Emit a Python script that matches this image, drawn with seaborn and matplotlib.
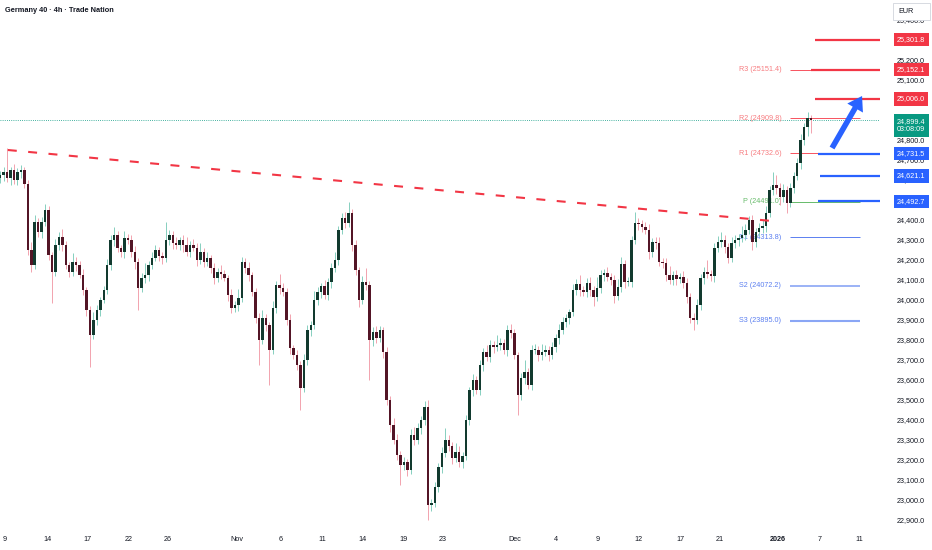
import matplotlib
matplotlib.use("Agg")
import matplotlib.pyplot as plt
import matplotlib.transforms as mtransforms
from matplotlib.patches import Rectangle
import numpy as np
import seaborn as sns

# Germany 40, 4h candles (4 bars per session)
first_open = 24610
closes = [
    24625, 24640, 24610, 24650, 24600, 24640, 24650, 24580, 24250, 24175,
    24390, 24340, 24390, 24450, 24225, 24140, 24275, 24315, 24275, 24175,
    24140, 24190, 24175, 24125, 24050, 23950, 23825, 23900, 23950, 24000,
    24050, 24175, 24300, 24325, 24260, 24240, 24310, 24300, 24240, 24190,
    24060, 24110, 24125, 24175, 24210, 24250, 24220, 24210, 24300, 24325,
    24285, 24275, 24300, 24275, 24240, 24275, 24260, 24200, 24240, 24190,
    24210, 24160, 24110, 24140, 24130, 24110, 24025, 23960, 23975, 24010,
    24190, 24160, 24125, 24040, 23910, 23800, 23910, 23875, 23750, 23960,
    24075, 24060, 24040, 23900, 23760, 23725, 23675, 23560, 23700, 23850,
    23875, 24000, 24040, 24070, 24025, 24090, 24160, 24200, 24350, 24410,
    24385, 24435, 24275, 24150, 24000, 24090, 24075, 23800, 23840, 23810,
    23850, 23740, 23500, 23375, 23300, 23225, 23175, 23190, 23150, 23325,
    23300, 23360, 23400, 23465, 22975, 22985, 23065, 23165, 23235, 23300,
    23270, 23210, 23240, 23190, 23220, 23400, 23550, 23600, 23550, 23675,
    23740, 23715, 23775, 23765, 23775, 23785, 23750, 23850, 23835, 23725,
    23525, 23610, 23640, 23575, 23750, 23750, 23725, 23740, 23750, 23725,
    23765, 23810, 23850, 23890, 23910, 23940, 24050, 24080, 24050, 24040,
    24085, 24050, 24015, 24060, 24125, 24135, 24115, 24100, 24020, 24065,
    24180, 24090, 24090, 24300, 24385, 24380, 24365, 24350, 24240, 24290,
    24285, 24190, 24185, 24125, 24100, 24125, 24105, 24115, 24085, 24015,
    23910, 23900, 23975, 24110, 24140, 24130, 24120, 24260, 24290, 24300,
    24265, 24210, 24285, 24300, 24310, 24325, 24350, 24400, 24290, 24340,
    24360, 24370, 24435, 24550, 24575, 24560, 24515, 24550, 24485, 24560,
    24620, 24685, 24800, 24865, 24910, 24899.4,
]
wick_up = [
    20, 25, 120, 15, 30, 20, 25, 15, 20, 40,
    35, 20, 25, 30, 20, 15, 30, 25, 40, 20,
    15, 45, 25, 20, 30, 15, 20, 40, 25, 15,
    20, 30, 25, 40, 20, 15, 35, 20, 25, 30,
    20, 25, 60, 20, 30, 25, 15, 20, 90, 25,
    20, 30, 15, 25, 40, 20, 30, 25, 45, 20,
    30, 15, 25, 20, 35, 20, 15, 30, 20, 45,
    25, 20, 30, 15, 20, 25, 40, 20, 15, 35,
    20, 55, 25, 20, 30, 15, 25, 20, 30, 25,
    20, 45, 25, 15, 30, 20, 25, 40, 20, 25,
    30, 55, 20, 25, 15, 30, 70, 20, 25, 30,
    20, 15, 25, 20, 35, 30, 20, 25, 15, 30,
    40, 25, 20, 30, 35, 20, 25, 20, 30, 60,
    25, 20, 45, 30, 20, 25, 15, 30, 20, 25,
    20, 35, 25, 20, 50, 25, 20, 25, 30, 20,
    15, 25, 60, 20, 25, 30, 20, 40, 25, 20,
    25, 20, 30, 25, 20, 15, 30, 25, 45, 20,
    25, 30, 20, 55, 25, 20, 30, 20, 25, 40,
    35, 20, 25, 20, 55, 25, 20, 25, 30, 20,
    25, 30, 20, 25, 45, 20, 25, 20, 30, 25,
    20, 25, 30, 20, 25, 60, 20, 25, 30, 40,
    25, 20, 30, 25, 20, 45, 30, 20, 25, 20,
    25, 30, 35, 20, 65, 50, 25, 30, 20, 25,
    20, 25, 30, 20, 30, 15,
]
wick_dn = [
    25, 30, 20, 35, 20, 25, 30, 20, 25, 35,
    20, 25, 30, 20, 25, 155, 20, 25, 30, 20,
    25, 20, 30, 15, 25, 30, 160, 20, 25, 30,
    15, 20, 25, 30, 20, 25, 30, 20, 25, 35,
    110, 20, 25, 30, 20, 15, 25, 30, 20, 25,
    30, 20, 25, 35, 20, 25, 15, 30, 20, 25,
    20, 25, 30, 20, 25, 15, 30, 25, 20, 30,
    20, 25, 30, 20, 25, 125, 20, 30, 175, 20,
    25, 30, 20, 25, 30, 20, 25, 110, 20, 25,
    30, 20, 25, 30, 20, 25, 30, 20, 25, 20,
    25, 20, 30, 25, 35, 20, 25, 200, 30, 25,
    20, 30, 25, 35, 20, 25, 100, 25, 30, 20,
    25, 20, 30, 25, 75, 30, 20, 25, 30, 20,
    25, 30, 20, 25, 30, 20, 25, 30, 20, 25,
    30, 20, 25, 30, 20, 25, 20, 30, 25, 20,
    100, 25, 30, 20, 25, 20, 30, 25, 20, 30,
    20, 25, 30, 20, 25, 30, 20, 25, 30, 20,
    25, 30, 45, 20, 25, 30, 20, 25, 35, 20,
    25, 30, 20, 25, 20, 30, 25, 20, 35, 25,
    30, 20, 25, 30, 20, 25, 30, 20, 25, 30,
    25, 50, 20, 25, 30, 20, 25, 30, 20, 25,
    30, 25, 20, 25, 30, 20, 25, 20, 40, 25,
    20, 25, 30, 20, 25, 30, 40, 25, 50, 20,
    25, 20, 30, 25, 45, 64,
]

# date labels, placed at bar positions
tick_bars = [1.4, 13.6, 25.4, 37.3, 48.6, 68.6, 81.4, 93.3, 105.1, 117.0,
             128.3, 149.2, 161.1, 173.3, 184.9, 197.3, 208.6, 225.4, 237.6, 248.9]
tick_labels = ["9", "14", "17", "22", "26", "Nov", "6", "11", "14", "19",
               "23", "Dec", "4", "9", "12", "17", "21", "2026", "7", "11"]

pivot_names = ["R3", "R2", "R1", "P", "S1", "S2", "S3"]
pivot_values = [25151.4, 24909.8, 24732.6, 24491.0, 24313.8, 24072.2, 23895.0]

level_values = [25301.8, 25152.1, 25006.0, 24731.5, 24621.1, 24492.7]
level_side = ["res", "res", "res", "sup", "sup", "sup"]
level_start = [236.2, 235.0, 236.2, 237.0, 237.6, 237.0]

last_price = 24899.4
countdown = "03:08:09"

trend_bars = [2.2, 223.7]
trend_prices = [24750, 24395]

arrow_from = (241.1, 24760)
arrow_to = (249.8, 25020)

# colours
RED = "#f23645"
BLUE = "#2962ff"
TEAL = "#089981"
UP_BODY, UP_WICK = "#123a2f", "#86cfbf"
DN_BODY, DN_WICK = "#531526", "#f2a3ae"
TXT = "#131722"

sns.set_theme(style="white")
plt.rcParams["font.family"] = ["Liberation Sans", "DejaVu Sans"]
FS = 5.2

fig = plt.figure(figsize=(9.32, 5.5), dpi=100)
fig.patch.set_facecolor("white")
ax = fig.add_axes([0, 22 / 550, 880 / 932, 528 / 550])
ax.set_facecolor("white")

c = np.array(closes, dtype=float)
o = np.concatenate([[first_open], c[:-1]])
hi = np.maximum(o, c) + np.array(wick_up)
lo = np.minimum(o, c) - np.array(wick_dn)
x = np.arange(len(c))
up = c >= o
bottom = np.minimum(o, c)
height = np.maximum(np.abs(c - o), 4)

ax.vlines(x[up], lo[up], hi[up], color=UP_WICK, lw=0.7, zorder=2)
ax.vlines(x[~up], lo[~up], hi[~up], color=DN_WICK, lw=0.7, zorder=2)
ax.bar(x[up], height[up], bottom=bottom[up], width=0.72, color=UP_BODY, lw=0, zorder=3)
ax.bar(x[~up], height[~up], bottom=bottom[~up], width=0.72, color=DN_BODY, lw=0, zorder=3)

# trendline and last price line
ax.plot(trend_bars, trend_prices, color=RED, lw=1.5, ls=(0, (4.3, 5.5)), zorder=4)
ax.axhline(last_price, color=TEAL, lw=0.6, ls=(0, (1, 1.6)), zorder=1)

# pivot points
piv_colors = ["#f7525f"] * 3 + ["#66bb6a"] + ["#5b7ff0", "#8aa6f5", "#8aa6f5"]
piv_lw = [0.7, 0.7, 0.7, 0.7, 0.7, 1.2, 1.5]
ax.hlines(pivot_values, 228.9, 249.2, colors=piv_colors, lw=piv_lw, zorder=1.5)
label_colors = ["#f77c80"] * 3 + ["#66bb6a"] + ["#5b7ff0"] * 3
for name, val, col in zip(pivot_names, pivot_values, label_colors):
    ax.text(226.4, val, f"{name} ({val:.1f})", ha="right", va="center",
            fontsize=FS, color=col, zorder=1.6)

# key levels
for val, side, start in zip(level_values, level_side, level_start):
    ax.hlines(val, start, 255, color=RED if side == "res" else BLUE, lw=1.6, zorder=4)

ax.annotate("", xy=arrow_to, xytext=arrow_from,
            arrowprops=dict(arrowstyle="simple,head_length=1.0,head_width=1.3,tail_width=0.4",
                            fc=BLUE, ec=BLUE, lw=0, mutation_scale=10,
                            shrinkA=0, shrinkB=0), zorder=5)

ax.set_xlim(-0.07, 255)
ax.set_ylim(22860, 25500)
ax.set_xticks(tick_bars, tick_labels)
for lab in ax.get_xticklabels():
    if lab.get_text() == "2026":
        lab.set_fontweight("bold")

# price scale; labels sitting under a price tag are hidden, as on the platform
yt = np.arange(22900, 25401, 100)
tags = level_values + [last_price]
ylabels = ["" if min(abs(v - t) for t in tags) < 15 else f"{v:,.1f}" for v in yt]
ax.set_yticks(yt, ylabels)
ax.yaxis.tick_right()
ax.tick_params(axis="y", length=0, pad=12.2, labelsize=FS, labelcolor=TXT)
ax.tick_params(axis="x", length=0, pad=6, labelsize=FS, labelcolor=TXT)
for s in ax.spines.values():
    s.set_visible(False)
ax.grid(False)

# price tags on the scale
trans = mtransforms.blended_transform_factory(fig.transFigure, ax.transData)
tag_x = 897 / 932
for val, side in zip(level_values, level_side):
    fig.text(tag_x, val, f"{val:,.1f}", transform=trans, ha="left", va="center",
             fontsize=FS, color="white",
             bbox=dict(boxstyle="square,pad=0.45", fc=RED if side == "res" else BLUE, ec="none"))
fig.text(tag_x, last_price - 27, f"{last_price:,.1f}\n{countdown}", transform=trans,
         ha="left", va="center", fontsize=FS, color="white", linespacing=1.35,
         bbox=dict(boxstyle="square,pad=0.45", fc=TEAL, ec="none"))

fig.add_artist(Rectangle((893 / 932, 530 / 550), 37 / 932, 17 / 550, transform=fig.transFigure,
                         fc="white", ec="#d1d4dc", lw=0.6))
fig.text(898 / 932, 538.5 / 550, "EUR", fontsize=FS, color=TXT, va="center")

fig.text(5 / 932, 539 / 550, "Germany 40 · 4h · Trade Nation", fontsize=5.3,
         fontweight="bold", color=TXT, va="center")

fig.savefig("out.png", dpi=100, facecolor="white")
